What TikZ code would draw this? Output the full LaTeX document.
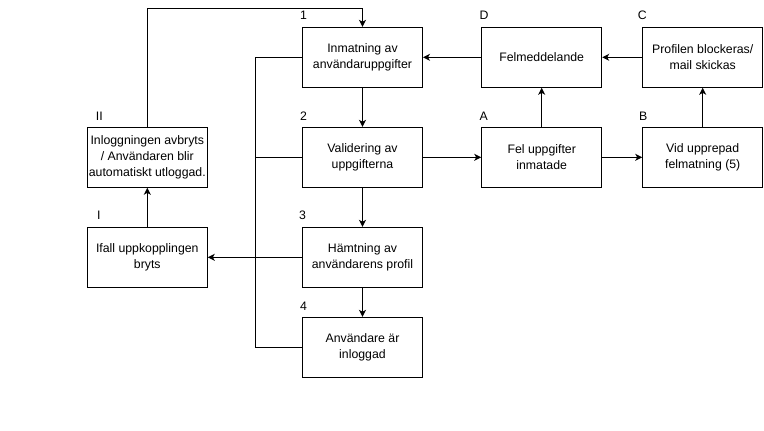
\documentclass[tikz,border=0pt]{standalone}
\usepackage{fontspec}
\setmainfont{Liberation Sans}
\usepackage{tikz}
\usetikzlibrary{arrows.meta}
\tikzstyle{stage}=[rectangle, draw=black, line width=1pt, minimum width=120pt, minimum height=60pt, inner sep=1pt, align=center, font=\fontsize{12.3}{15.8}\selectfont]
\tikzstyle{tag} = [anchor=west, inner sep=0pt, font=\fontsize{12.3}{14}\selectfont]
\tikzstyle{edge} = [draw, line width=1pt, -, black]
\tikzstyle{flow} = [edge, -{Stealth[length=7pt, width=7pt, inset=2pt]}]

\begin{document}
\begin{tikzpicture}[x=1pt, y=-1pt]

					\useasboundingbox (0,0) rectangle (764,431);

					% main login steps
					\node[stage] (s_1) at (362.5, 57.3) {Inmatning av\\anv\"andaruppgifter};
					\node[stage] (s_2) at (362.5, 157.3) {Validering av\\uppgifterna};
					\node[stage] (s_3) at (362.5, 257.3) {H\"amtning av\\anv\"andarens profil};
					\node[stage] (s_4) at (362.5, 347.3) {Anv\"andare \"ar\\inloggad};

					\node[tag] (t_1) at (300, 15.7) {1};
					\node[tag] (t_2) at (300, 116.7) {2};
					\node[tag] (t_3) at (299, 215.7) {3};
					\node[tag] (t_4) at (300, 306.7) {4};

					% connection lost
					\node[stage] (c_1) at (147.3, 257.3) {Ifall uppkopplingen\\bryts};
					\node[stage] (c_2) at (147.3, 157.3) {Inloggningen avbryts\\/ Anv\"andaren blir\\automatiskt utloggad.};

					\node[tag] (t_c1) at (97, 215.7) {I};
					\node[tag] (t_c2) at (95.7, 116.7) {II};

					% wrong input
					\node[stage] (e_A) at (541.7, 157.3) {Fel uppgifter\\inmatade};
					\node[stage] (e_B) at (702.7, 157.3) {Vid upprepad\\felmatning (5)};
					\node[stage] (e_C) at (702.7, 57.3) {Profilen blockeras/\\mail skickas};
					\node[stage] (e_D) at (541.7, 57.3) {Felmeddelande};

					\node[tag] (t_A) at (479.3, 116.7) {A};
					\node[tag] (t_B) at (639, 116.7) {B};
					\node[tag] (t_C) at (637.7, 15.7) {C};
					\node[tag] (t_D) at (479.3, 15.7) {D};

					\foreach \source/\target in {s_1/s_2, s_2/s_3, s_3/s_4, s_2/e_A, e_A/e_B, e_A/e_D, e_B/e_C, e_C/e_D, e_D/s_1, c_1/c_2, s_3/c_1}{
						\draw[flow] (\source) -- (\target);
					}

					\coordinate (top) at (147.3, 8);
					\draw[flow] (c_2.north) -- (top) -| (s_1.north);

					\coordinate (spine_1) at (255.7, 57.3);
					\coordinate (spine_4) at (255.7, 347.3);
					\draw[edge] (s_1.west) -- (spine_1) -- (spine_4) -- (s_4.west);
					\draw[edge] (s_2.west) -- (s_2.west -| spine_1);

				\end{tikzpicture}
\end{document}
